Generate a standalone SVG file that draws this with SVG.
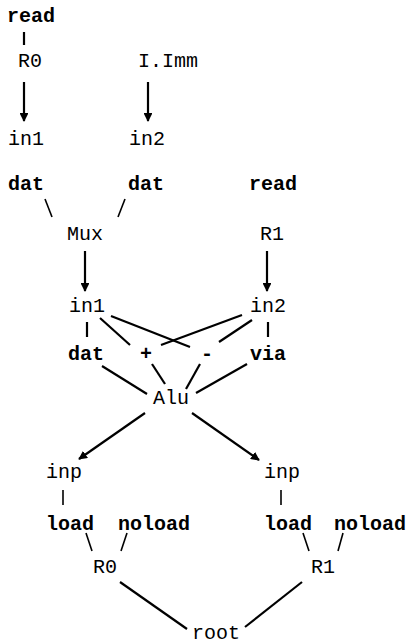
<svg xmlns="http://www.w3.org/2000/svg" width="409" height="644" viewBox="0 0 409 644">
  <style>
    .t { font-family: "Liberation Mono", "DejaVu Sans Mono", monospace; font-size: 20px; fill: #000; }
    .b { font-weight: bold; }
    .e { stroke: #000; stroke-width: 2.2; fill: none; stroke-linecap: butt; }
    .s { stroke: #000; stroke-width: 1.6; fill: none; }
    .a { marker-end: url(#ah); }
  </style>
  <defs>
    <marker id="ah" viewBox="0 0 10 10" refX="9" refY="5" markerWidth="4" markerHeight="4" orient="auto" markerUnits="strokeWidth">
      <path d="M0,0 L10,5 L0,10 Z" fill="#000"/>
    </marker>
  </defs>
  <rect width="409" height="644" fill="#fff"/>

  <g id="connectors">
    <!-- read -> R0 -->
    <line class="e" x1="24" y1="32" x2="24" y2="45"/>
    <!-- R0 -> in1, I.Imm -> in2 -->
    <line class="e a" x1="24" y1="82" x2="24" y2="121"/>
    <line class="e a" x1="148" y1="82" x2="148" y2="121"/>
    <!-- dat, dat -> Mux -->
    <line class="s" x1="45" y1="199" x2="52" y2="217"/>
    <line class="s" x1="125" y1="199" x2="118" y2="217"/>
    <!-- Mux -> in1, R1 -> in2 -->
    <line class="e a" x1="85" y1="251" x2="85" y2="291"/>
    <line class="e a" x1="267" y1="251" x2="267" y2="291"/>
    <!-- in1 / in2 fan-out -->
    <line class="e" x1="87" y1="322" x2="87" y2="337"/>
    <line class="e" x1="268" y1="322" x2="268" y2="337"/>
    <line class="e" x1="100" y1="318" x2="130" y2="345"/>
    <line class="e" x1="111" y1="316" x2="190" y2="347"/>
    <line class="e" x1="242" y1="315" x2="161" y2="345"/>
    <line class="e" x1="252" y1="320" x2="219" y2="342"/>
    <!-- into Alu -->
    <line class="e" x1="102" y1="366" x2="147" y2="394"/>
    <line class="e" x1="152" y1="364" x2="165" y2="384"/>
    <line class="e" x1="200" y1="364" x2="186" y2="389"/>
    <line class="e" x1="247" y1="364" x2="196" y2="393"/>
    <!-- Alu -> inp, inp -->
    <line class="e a" x1="145" y1="413" x2="79" y2="459"/>
    <line class="e a" x1="192" y1="413" x2="259" y2="460"/>
    <!-- inp -> load -->
    <line class="s" x1="63" y1="490" x2="63" y2="505"/>
    <line class="s" x1="281" y1="490" x2="281" y2="505"/>
    <!-- load / noload -> R0, R1 -->
    <line class="s" x1="86" y1="533" x2="92" y2="551"/>
    <line class="s" x1="127" y1="533" x2="121" y2="551"/>
    <line class="s" x1="303" y1="533" x2="309" y2="551"/>
    <line class="s" x1="343" y1="533" x2="338" y2="551"/>
    <!-- R0, R1 -> root -->
    <line class="e" x1="120" y1="582" x2="187" y2="629"/>
    <line class="e" x1="302" y1="582" x2="245" y2="627"/>
  </g>

  <g id="read0"><text class="t b" x="7" y="22">read</text></g>
  <g id="r0a"><text class="t" x="18" y="67">R0</text></g>
  <g id="imm"><text class="t" x="138" y="67">I.Imm</text></g>
  <g id="in1a"><text class="t" x="8" y="145">in1</text></g>
  <g id="in2a"><text class="t" x="129" y="145">in2</text></g>
  <g id="dat1"><text class="t b" x="8" y="190">dat</text></g>
  <g id="dat2"><text class="t b" x="128" y="190">dat</text></g>
  <g id="read1"><text class="t b" x="249" y="190">read</text></g>
  <g id="mux"><text class="t" x="67" y="240">Mux</text></g>
  <g id="r1a"><text class="t" x="260" y="240">R1</text></g>
  <g id="in1b"><text class="t" x="69" y="312">in1</text></g>
  <g id="in2b"><text class="t" x="250" y="312">in2</text></g>
  <g id="dat3"><text class="t b" x="68" y="360">dat</text></g>
  <g id="plus"><text class="t b" x="140" y="360">+</text></g>
  <g id="minus"><text class="t b" x="201" y="360">-</text></g>
  <g id="via"><text class="t b" x="250" y="360">via</text></g>
  <g id="alu"><text class="t" x="153" y="404">Alu</text></g>
  <g id="inp1"><text class="t" x="46" y="478">inp</text></g>
  <g id="inp2"><text class="t" x="264" y="478">inp</text></g>
  <g id="load1"><text class="t b" x="46" y="530">load</text></g>
  <g id="noload1"><text class="t b" x="118" y="530">noload</text></g>
  <g id="load2"><text class="t b" x="264" y="530">load</text></g>
  <g id="noload2"><text class="t b" x="334" y="530">noload</text></g>
  <g id="r0b"><text class="t" x="93" y="573">R0</text></g>
  <g id="r1b"><text class="t" x="311" y="573">R1</text></g>
  <g id="root"><text class="t" x="192" y="639">root</text></g>
</svg>
